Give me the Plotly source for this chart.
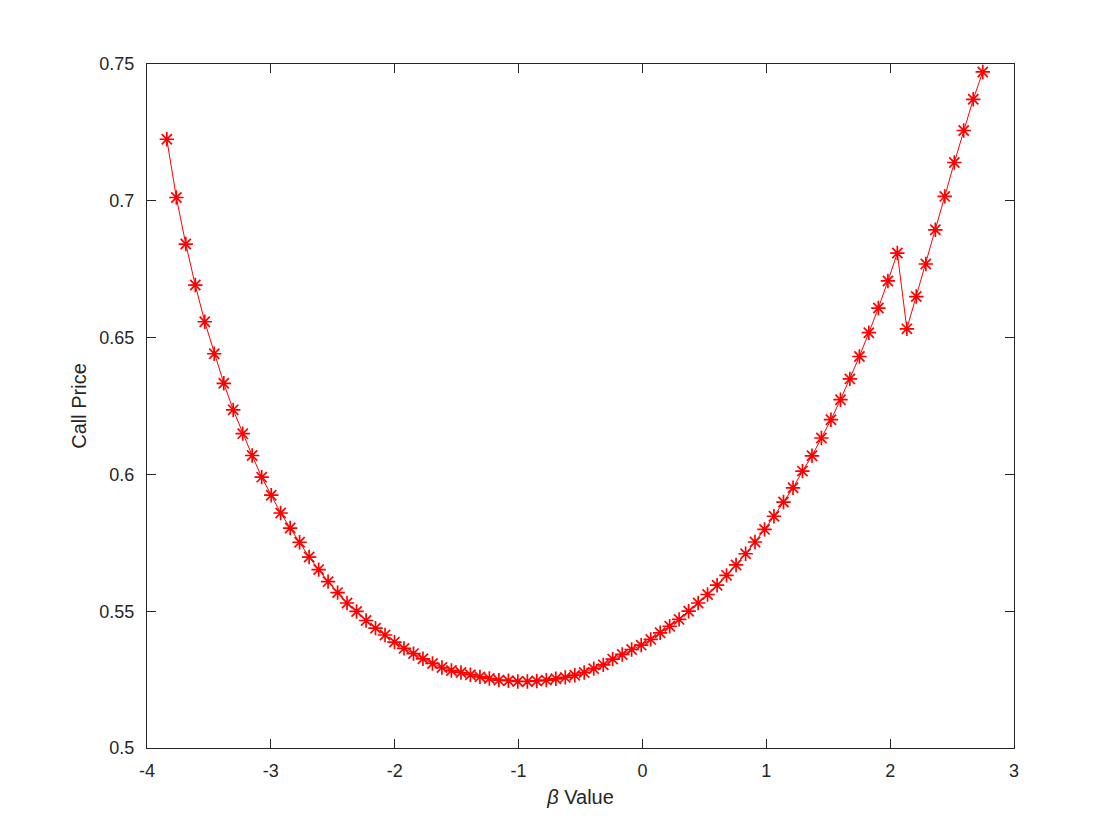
import plotly.graph_objects as go

beta = [-3.840, -3.763, -3.687, -3.610, -3.534, -3.457, -3.380, -3.304, -3.227, -3.151,
        -3.074, -2.997, -2.921, -2.844, -2.768, -2.691, -2.614, -2.538, -2.461, -2.385,
        -2.308, -2.231, -2.155, -2.078, -2.002, -1.925, -1.848, -1.772, -1.695, -1.619,
        -1.542, -1.465, -1.389, -1.312, -1.236, -1.159, -1.082, -1.006, -0.929, -0.853,
        -0.776, -0.699, -0.623, -0.546, -0.470, -0.393, -0.316, -0.240, -0.163, -0.087,
        -0.010, 0.067, 0.143, 0.220, 0.296, 0.373, 0.450, 0.526, 0.603, 0.679,
        0.756, 0.833, 0.909, 0.986, 1.062, 1.139, 1.216, 1.292, 1.369, 1.445,
        1.522, 1.599, 1.675, 1.752, 1.828, 1.905, 1.982, 2.058, 2.135, 2.211,
        2.288, 2.365, 2.441, 2.518, 2.594, 2.671, 2.748]

call_price = [0.7225, 0.7012, 0.6842, 0.6692, 0.6558, 0.6441, 0.6333, 0.6236, 0.6149, 0.6069,
              0.5990, 0.5924, 0.5859, 0.5804, 0.5752, 0.5698, 0.5652, 0.5608, 0.5568, 0.5530,
              0.5499, 0.5466, 0.5438, 0.5413, 0.5387, 0.5364, 0.5345, 0.5326, 0.5309, 0.5294,
              0.5283, 0.5276, 0.5268, 0.5260, 0.5254, 0.5248, 0.5246, 0.5243, 0.5243, 0.5245,
              0.5248, 0.5253, 0.5258, 0.5266, 0.5276, 0.5290, 0.5304, 0.5325, 0.5342, 0.5360,
              0.5376, 0.5397, 0.5421, 0.5445, 0.5470, 0.5500, 0.5530, 0.5561, 0.5595, 0.5631,
              0.5669, 0.5710, 0.5753, 0.5799, 0.5847, 0.5899, 0.5951, 0.6012, 0.6068, 0.6133,
              0.6200, 0.6273, 0.6349, 0.6431, 0.6518, 0.6608, 0.6707, 0.6809, 0.6532, 0.6650,
              0.6769, 0.6894, 0.7016, 0.7140, 0.7257, 0.7371, 0.7471]

x_ticks = [-4, -3, -2, -1, 0, 1, 2, 3]
y_ticks = [0.5, 0.55, 0.6, 0.65, 0.7, 0.75]
y_tick_text = ["0.5", "0.55", "0.6", "0.65", "0.7", "0.75"]

axis_color = "#262626"
font_family = "Liberation Sans, Arial, sans-serif"

fig = go.Figure()
fig.add_trace(go.Scatter(
    x=beta, y=call_price, mode="lines+markers",
    line=dict(color="#ff0000", width=1),
    marker=dict(symbol="asterisk-open", size=12, color="#ff0000",
                line=dict(color="#ff0000", width=1.7)),
    showlegend=False,
))

fig.update_layout(
    width=1120, height=840,
    paper_bgcolor="white", plot_bgcolor="white",
    margin=dict(l=139, r=114, t=56, b=100, autoexpand=False),
    font=dict(family=font_family, size=18, color=axis_color),
    xaxis=dict(
        range=[-4, 3], tickvals=x_ticks, ticktext=[str(v) for v in x_ticks],
        showgrid=False, zeroline=False,
        showline=True, linecolor=axis_color, linewidth=1, mirror="allticks",
        ticks="inside", ticklen=9, tickcolor=axis_color, tickwidth=1,
        ticklabelstandoff=6,
        tickfont=dict(size=18, color=axis_color),
        title=dict(text="<i>β</i> Value", font=dict(size=20, color=axis_color), standoff=10),
    ),
    yaxis=dict(
        range=[0.5, 0.75], tickvals=y_ticks, ticktext=y_tick_text,
        showgrid=False, zeroline=False,
        showline=True, linecolor=axis_color, linewidth=1, mirror="allticks",
        ticks="inside", ticklen=9, tickcolor=axis_color, tickwidth=1,
        ticklabelstandoff=8,
        tickfont=dict(size=18, color=axis_color),
        title=dict(text="Call Price", font=dict(size=20, color=axis_color), standoff=7),
    ),
)

fig.write_html("out.html")
